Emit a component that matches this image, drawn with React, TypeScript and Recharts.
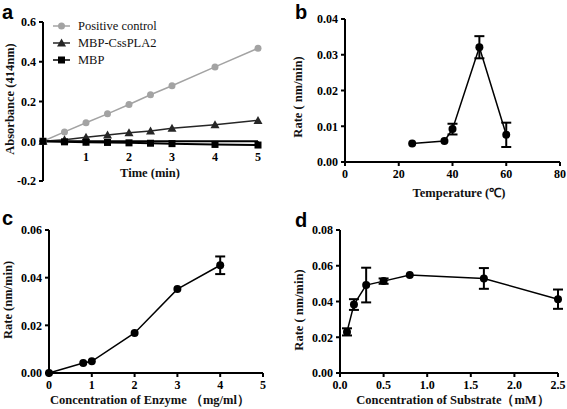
import { ErrorBar, Legend, Line, LineChart, ReferenceLine, XAxis, YAxis } from "recharts";

const W = 567;
const H = 409;
const AXIS_W = 40;
const AXIS_H = 30;

// a: absorbance over time
const timeMin = [0, 0.5, 1, 1.5, 2, 2.5, 3, 4, 5];
const positiveControl = [0, 0.047, 0.093, 0.138, 0.185, 0.234, 0.279, 0.374, 0.468];
const mbpCssPla2 = [0, 0.008, 0.02, 0.032, 0.043, 0.052, 0.065, 0.083, 0.105];
const mbpOnly = [0, -0.003, -0.005, -0.006, -0.008, -0.01, -0.012, -0.016, -0.019];
const seriesNames = ["Positive control", "MBP-CssPLA2", "MBP"];
const absTicks = [-0.2, 0, 0.2, 0.4, 0.6];
const timeTicks = [1, 2, 3, 4, 5];

// b: temperature
const temperature = [25, 37, 40, 50, 60];
const tempRate = [0.0052, 0.0059, 0.0092, 0.0321, 0.0076];
const tempErr = [null, null, 0.0015, 0.0031, 0.0034];
const tempTicks = [0, 20, 40, 60, 80];
const tempRateTicks = [0, 0.01, 0.02, 0.03, 0.04];

// c: enzyme concentration
const enzymeConc = [0, 0.8, 1, 2, 3, 4];
const enzymeRate = [0, 0.0042, 0.0049, 0.0168, 0.0352, 0.0452];
const enzymeErr = [null, null, null, null, null, 0.0037];
const enzymeTicks = [0, 1, 2, 3, 4, 5];
const enzymeRateTicks = [0, 0.02, 0.04, 0.06];

// d: substrate concentration
const substrateConc = [0.08, 0.16, 0.3, 0.5, 0.8, 1.65, 2.5];
const substrateRate = [0.023, 0.0383, 0.0492, 0.0514, 0.0548, 0.0529, 0.0413];
const substrateErr = [0.002, 0.003, 0.0097, 0.0015, null, 0.0058, 0.0054];
const substrateTicks = [0, 0.5, 1, 1.5, 2, 2.5];
const substrateRateTicks = [0, 0.02, 0.04, 0.06, 0.08];

const SERIF = "Liberation Serif";
const axisLine = { stroke: "#000", strokeWidth: 2 };
const tickFont = { fill: "#000", fontSize: 12, fontWeight: 700, fontFamily: SERIF };
const GREY = "#a3a3a3";
const DARK = "#262626";

type Box = { left: number; top: number; right: number; bottom: number };

const margins = ({ left, top, right, bottom }: Box) => ({
  left: left - AXIS_W,
  top,
  right: W - right,
  bottom: H - bottom - AXIS_H,
});

const boxA: Box = { left: 43, top: 22, right: 258, bottom: 181 };
const boxB: Box = { left: 345, top: 19, right: 560, bottom: 162 };
const boxC: Box = { left: 49, top: 230, right: 263, bottom: 373 };
const boxD: Box = { left: 340, top: 230, right: 558, bottom: 373 };

const absData = timeMin.map((t, i) => ({ t, pos: positiveControl[i], cs: mbpCssPla2[i], mbp: mbpOnly[i] }));
const tempData = temperature.map((x, i) => ({ x, y: tempRate[i], e: tempErr[i] }));
const enzymeData = enzymeConc.map((x, i) => ({ x, y: enzymeRate[i], e: enzymeErr[i] }));
const substrateData = substrateConc.map((x, i) => ({ x, y: substrateRate[i], e: substrateErr[i] }));

const triangle = (p: any) => (
  <path key={`tri-${p.index}`} d={`M${p.cx},${p.cy - 4.5}L${p.cx + 4.5},${p.cy + 3.5}L${p.cx - 4.5},${p.cy + 3.5}Z`} fill={DARK} />
);
const square = (p: any) => <rect key={`sq-${p.index}`} x={p.cx - 3.5} y={p.cy - 3.5} width={7} height={7} fill="#000" />;

// x axis of panel a sits on y = 0, not at the bottom of the plot
const zeroShift = ((0 - absTicks[0]) / (absTicks[absTicks.length - 1] - absTicks[0])) * (boxA.bottom - boxA.top);
function ZeroAxisTick({ x, y, payload }: any) {
  const y0 = y - zeroShift;
  return (
    <g>
      <line x1={x} x2={x} y1={y0} y2={y0 + 4} stroke="#000" strokeWidth={2} />
      <text x={x} y={y0 + 20} textAnchor="middle" {...tickFont}>{payload.value}</text>
    </g>
  );
}

function AbsLegend() {
  const marks = [
    <circle cx={8.5} cy={0} r={3.5} fill={GREY} />,
    <path d="M8.5,-4.5L13,3.5L4,3.5Z" fill={DARK} />,
    <rect x={5} y={-3.5} width={7} height={7} fill="#000" />,
  ];
  const colors = [GREY, DARK, "#000"];
  return (
    <svg width={110} height={51}>
      {seriesNames.map((name, i) => (
        <g key={name} transform={`translate(1 ${9 + i * 17})`}>
          <line x1={0} x2={17} y1={0} y2={0} stroke={colors[i]} strokeWidth={1.5} />
          {marks[i]}
          <text x={25} y={0} dominantBaseline="central" fontFamily={SERIF} fontSize={12.5} fill="#111">{name}</text>
        </g>
      ))}
    </svg>
  );
}

function RatePanel({ box, data, xTicks, yTicks, xFmt, yFmt }: any) {
  return (
    <div style={{ position: "absolute", left: 0, top: 0 }}>
      <LineChart width={W} height={H} data={data} margin={margins(box)}>
        <XAxis type="number" dataKey="x" domain={[xTicks[0], xTicks[xTicks.length - 1]]} ticks={xTicks} interval={0}
          height={AXIS_H} axisLine={axisLine} tickLine={axisLine} tickSize={4} tickMargin={3} tick={tickFont} tickFormatter={xFmt} />
        <YAxis type="number" domain={[yTicks[0], yTicks[yTicks.length - 1]]} ticks={yTicks} interval={0}
          width={AXIS_W} axisLine={axisLine} tickLine={axisLine} tickSize={4} tickMargin={3} tick={tickFont} tickFormatter={yFmt} />
        <Line dataKey="y" stroke="#000" strokeWidth={1.5} dot={{ r: 4, fill: "#000", stroke: "#000", strokeWidth: 0 }} isAnimationActive={false}>
          <ErrorBar dataKey="e" width={5} stroke="#000" strokeWidth={2} direction="y" />
        </Line>
      </LineChart>
    </div>
  );
}

const titles = [
  { text: "Absorbance (414nm)", x: 10, y: 99, rot: true },
  { text: "Time (min)", x: 150, y: 173 },
  { text: "Rate ( nm/min)", x: 298, y: 97, rot: true },
  { text: "Temperature (℃)", x: 459, y: 193 },
  { text: "Rate (nm/min)", x: 8, y: 300, rot: true },
  { text: "Concentration of Enzyme （mg/ml）", x: 150, y: 400 },
  { text: "Rate ( nm/min)", x: 299, y: 310, rot: true },
  { text: "Concentration of Substrate（mM）", x: 453, y: 400 },
];
const panelLetters = [
  { text: "a", x: 2, y: 18.5 },
  { text: "b", x: 295, y: 18.5 },
  { text: "c", x: 2, y: 225 },
  { text: "d", x: 295, y: 226.5 },
];

export default function App() {
  return (
    <div style={{ position: "absolute", left: 0, top: 0, width: W, height: H, background: "#fff", overflow: "hidden" }}>
      <div style={{ position: "absolute", left: 0, top: 0 }}>
        <LineChart width={W} height={H} data={absData} margin={margins(boxA)}>
          <XAxis type="number" dataKey="t" domain={[0, 5]} ticks={timeTicks} interval={0} height={AXIS_H}
            axisLine={false} tickLine={false} tickSize={0} tickMargin={0} tick={(p: any) => <ZeroAxisTick {...p} />} />
          <YAxis type="number" domain={[absTicks[0], absTicks[absTicks.length - 1]]} ticks={absTicks} interval={0}
            width={AXIS_W} axisLine={axisLine} tickLine={axisLine} tickSize={4} tickMargin={3} tick={tickFont}
            tickFormatter={(v: number) => v.toFixed(1)} />
          <ReferenceLine y={0} stroke="#000" strokeWidth={2} />
          <Legend layout="vertical" align="center" verticalAlign="middle" wrapperStyle={{ left: 52, top: 17, width: "auto" }} content={() => <AbsLegend />} />
          <Line dataKey="pos" name={seriesNames[0]} stroke={GREY} strokeWidth={1.5} dot={{ r: 3.5, fill: GREY, stroke: GREY, strokeWidth: 0 }} isAnimationActive={false} />
          <Line dataKey="cs" name={seriesNames[1]} stroke={DARK} strokeWidth={1.5} dot={triangle} isAnimationActive={false} />
          <Line dataKey="mbp" name={seriesNames[2]} stroke="#000" strokeWidth={2} dot={square} isAnimationActive={false} />
        </LineChart>
      </div>
      <RatePanel box={boxB} data={tempData} xTicks={tempTicks} yTicks={tempRateTicks} yFmt={(v: number) => v.toFixed(2)} />
      <RatePanel box={boxC} data={enzymeData} xTicks={enzymeTicks} yTicks={enzymeRateTicks} yFmt={(v: number) => v.toFixed(2)} />
      <RatePanel box={boxD} data={substrateData} xTicks={substrateTicks} yTicks={substrateRateTicks}
        xFmt={(v: number) => v.toFixed(1)} yFmt={(v: number) => v.toFixed(2)} />
      <svg width={W} height={H} style={{ position: "absolute", left: 0, top: 0, pointerEvents: "none" }}>
        {titles.map((t, i) => (
          <text key={i} x={t.x} y={t.y} textAnchor="middle" dominantBaseline="central" fontFamily={SERIF} fontWeight={700}
            fontSize={12.5} fill="#111" transform={t.rot ? `rotate(-90 ${t.x} ${t.y})` : undefined}>{t.text}</text>
        ))}
        {panelLetters.map((l) => (
          <text key={l.text} x={l.x} y={l.y} fontFamily="Liberation Sans" fontWeight={700} fontSize={20} fill="#000">{l.text}</text>
        ))}
      </svg>
    </div>
  );
}
